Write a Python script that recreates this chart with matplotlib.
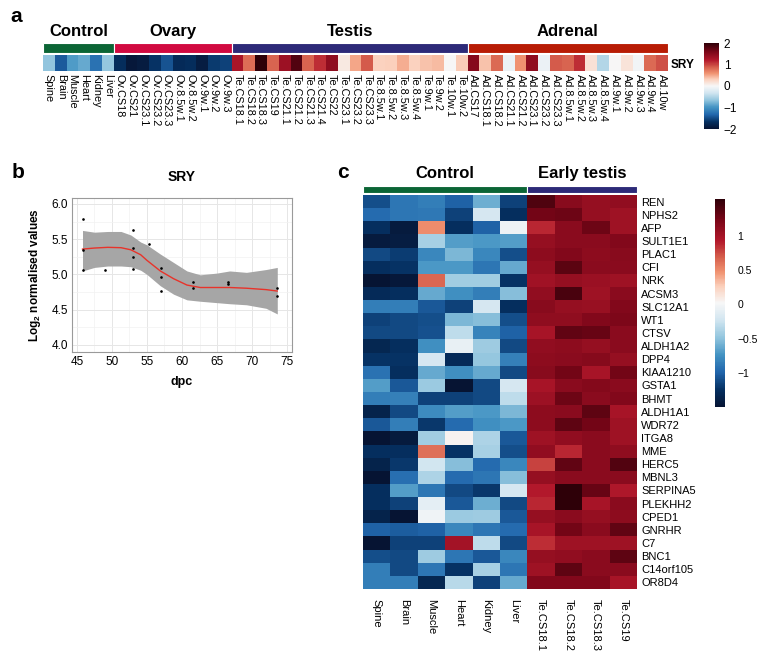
import numpy as np
import matplotlib
matplotlib.use("Agg")
import matplotlib.pyplot as plt
from matplotlib.colors import LinearSegmentedColormap

plt.rcParams['font.family'] = ['Liberation Sans', 'DejaVu Sans']
plt.rcParams['mathtext.fontset'] = 'custom'
plt.rcParams['mathtext.rm'] = 'Liberation Sans'
plt.rcParams['mathtext.bf'] = 'Liberation Sans:bold'

W, H = 765, 661

# ---------------- data: panel a (SRY across samples) ----------------
groups_a = ['Control', 'Ovary', 'Testis', 'Adrenal']
samples_a = [
    'Spine', 'Brain', 'Muscle', 'Heart', 'Kidney', 'Liver',
    'Ov.CS18', 'Ov.CS21', 'Ov.CS23.1', 'Ov.CS23.2', 'Ov.CS23.3', 'Ov.8.5w.1', 'Ov.8.5w.2',
    'Ov.9w.1', 'Ov.9w.2', 'Ov.9w.3',
    'Te.CS18.1', 'Te.CS18.2', 'Te.CS18.3', 'Te.CS19', 'Te.CS21.1', 'Te.CS21.2', 'Te.CS21.3',
    'Te.CS21.4', 'Te.CS22', 'Te.CS23.1', 'Te.CS23.2', 'Te.CS23.3', 'Te.8.5w.1', 'Te.8.5w.2',
    'Te.8.5w.3', 'Te.8.5w.4', 'Te.9w.1', 'Te.9w.2', 'Te.10w.1', 'Te.10w.2',
    'Ad.CS17', 'Ad.CS18.1', 'Ad.CS18.2', 'Ad.CS21.1', 'Ad.CS21.2', 'Ad.CS23.1', 'Ad.CS23.2',
    'Ad.CS23.3', 'Ad.8.5w.1', 'Ad.8.5w.2', 'Ad.8.5w.3', 'Ad.8.5w.4', 'Ad.9w.1', 'Ad.9w.2',
    'Ad.9w.3', 'Ad.9w.4', 'Ad.10w']
group_sizes_a = [6, 10, 20, 17]
sry_a = [
    -0.67, -1.4, -0.95, -0.85, -1.25, -0.65,
    -1.7, -1.95, -1.9, -1.65, -1.45, -1.72, -1.7, -1.88, -1.6, -1.55,
    1.25, 0.8, 2.0, 0.85, 1.35, 1.8, 0.85, 1.1, 1.45, 0.12, 0.5, 0.9,
    0.3, 0.32, 0.48, 0.3, 0.38, 0.42, 0.0, 0.34,
    1.5, 0.38, 0.82, -0.1, 0.6, 1.45, -0.1, 0.9, 0.85, 1.1, 0.18, -0.5,
    0.0, 0.16, -0.05, 0.82, 0.95]

# ---------------- data: panel b (SRY vs dpc) ----------------
dpc_pts = [45.8, 45.8, 45.8, 49, 53, 53, 53, 53, 55.3, 57, 57, 57, 61.5, 61.5, 66.6, 66.6, 73.6, 73.6]
expr_pts = [5.78, 5.35, 5.06, 5.06, 5.63, 5.37, 5.25, 5.08, 5.43, 5.09, 4.97, 4.76,
            4.90, 4.81, 4.89, 4.86, 4.81, 4.70]
dpc_fit = [45.8, 47.5, 49.4, 51.3, 52.7, 54.1, 55.0, 56.9, 58.8, 60.7, 62.6, 65.0, 66.8, 69.2, 72.0, 73.6]
fit_mid = [5.36, 5.375, 5.385, 5.38, 5.35, 5.28, 5.20, 5.05, 4.94, 4.85, 4.815, 4.815, 4.815, 4.805, 4.785, 4.765]
fit_hi = [5.625, 5.60, 5.61, 5.61, 5.56, 5.46, 5.42, 5.29, 5.17, 5.05, 4.995, 5.02, 5.05, 5.03, 5.07, 5.10]
fit_lo = [5.05, 5.10, 5.12, 5.12, 5.11, 5.06, 5.00, 4.84, 4.72, 4.64, 4.62, 4.60, 4.585, 4.57, 4.52, 4.44]

# ---------------- data: panel c (genes x samples) ----------------
genes_c = ['REN', 'NPHS2', 'AFP', 'SULT1E1', 'PLAC1', 'CFI', 'NRK', 'ACSM3', 'SLC12A1', 'WT1',
           'CTSV', 'ALDH1A2', 'DPP4', 'KIAA1210', 'GSTA1', 'BHMT', 'ALDH1A1', 'WDR72', 'ITGA8',
           'MME', 'HERC5', 'MBNL3', 'SERPINA5', 'PLEKHH2', 'CPED1', 'GNRHR', 'C7', 'BNC1',
           'C14orf105', 'OR8D4']
samples_c = ['Spine', 'Brain', 'Muscle', 'Heart', 'Kidney', 'Liver',
             'Te.CS18.1', 'Te.CS18.2', 'Te.CS18.3', 'Te.CS19']
groups_c = ['Control', 'Early testis']
group_sizes_c = [6, 4]
expr_c = [
    [-1.10, -0.90, -0.85, -1.00, -0.60, -1.15, 1.40, 1.15, 1.07, 1.10],
    [-0.95, -0.90, -0.88, -1.15, -0.20, -1.25, 1.25, 1.28, 1.07, 1.03],
    [-1.25, -1.42, 0.50, -1.25, -1.00, -0.05, 0.88, 1.13, 1.28, 1.03],
    [-1.42, -1.40, -0.40, -0.68, -0.70, -0.68, 1.08, 1.13, 1.14, 1.18],
    [-1.12, -1.18, -0.80, -0.55, -0.80, -1.10, 1.12, 1.18, 1.12, 1.15],
    [-1.25, -1.22, -0.70, -0.70, -0.90, -0.62, 1.07, 1.35, 1.13, 1.13],
    [-1.49, -1.45, 0.65, -0.42, -0.42, -1.22, 1.02, 1.08, 1.05, 1.03],
    [-1.28, -1.25, -0.62, -0.75, -0.85, -0.52, 1.10, 1.42, 1.03, 1.14],
    [-0.85, -0.85, -1.05, -1.15, -0.20, -1.25, 1.15, 1.07, 1.06, 1.18],
    [-1.15, -1.12, -1.10, -0.55, -0.52, -1.10, 1.11, 1.11, 1.18, 1.20],
    [-1.12, -1.12, -1.08, -0.30, -0.82, -1.00, 0.98, 1.32, 1.30, 1.14],
    [-1.32, -1.25, -0.75, -0.08, -0.43, -1.12, 1.10, 1.12, 1.07, 1.13],
    [-1.22, -1.22, -0.20, -1.28, -0.47, -0.83, 1.12, 1.13, 1.16, 1.07],
    [-0.92, -1.25, -0.62, -0.75, -0.62, -1.12, 1.15, 1.25, 0.98, 1.25],
    [-0.68, -1.05, -0.45, -1.48, -1.12, -0.20, 0.98, 1.13, 1.17, 1.14],
    [-0.85, -0.83, -1.15, -1.15, -1.12, -0.30, 1.04, 1.28, 1.14, 1.18],
    [-1.35, -1.12, -0.78, -0.68, -0.70, -0.55, 1.12, 1.13, 1.33, 0.98],
    [-1.05, -0.85, -1.20, -0.95, -0.75, -0.70, 1.12, 1.33, 1.25, 1.03],
    [-1.49, -1.42, -0.42, 0.05, -0.38, -1.05, 1.03, 1.10, 1.14, 1.03],
    [-1.25, -1.25, 0.62, -1.22, -0.40, -1.10, 1.10, 0.88, 1.14, 1.11],
    [-1.35, -1.20, -0.22, -0.52, -0.95, -0.80, 0.78, 1.32, 1.14, 1.38],
    [-1.49, -0.93, -0.38, -0.95, -0.90, -0.52, 1.07, 1.13, 1.14, 1.14],
    [-1.25, -0.68, -0.90, -1.12, -1.20, -0.20, 0.92, 1.53, 1.30, 0.95],
    [-1.25, -1.15, -0.10, -1.05, -0.60, -1.12, 0.88, 1.53, 0.98, 1.14],
    [-1.35, -1.49, -0.03, -0.45, -0.44, -1.05, 1.08, 1.14, 1.08, 1.12],
    [-1.00, -1.02, -1.00, -0.80, -0.90, -0.95, 0.98, 1.25, 1.14, 1.32],
    [-1.48, -1.15, -1.15, 1.00, -0.30, -1.12, 0.85, 1.03, 1.03, 1.03],
    [-1.10, -1.12, -0.43, -0.90, -1.05, -0.80, 1.07, 1.10, 1.14, 1.33],
    [-0.85, -1.12, -0.90, -1.22, -0.40, -0.90, 1.03, 1.33, 1.14, 1.14],
    [-0.85, -0.85, -1.32, -0.33, -1.15, -0.62, 1.18, 1.18, 1.18, 0.98],
]

group_colors = {'Control': '#0b6535', 'Ovary': '#d10a40', 'Testis': '#2d2a78',
                'Adrenal': '#b81c05', 'Early testis': '#2d2a78'}

cmap = LinearSegmentedColormap.from_list('rdbu_dark', [
    (0.0, '#061433'), (0.083, '#053061'), (0.167, '#2166ac'), (0.25, '#4393c3'),
    (0.333, '#92c5de'), (0.417, '#d1e5f0'), (0.5, '#f7f7f7'), (0.58, '#fbd0bc'),
    (0.65, '#f09270'), (0.72, '#d6604d'), (0.80, '#b2182b'), (0.90, '#7a0618'),
    (1.0, '#2e0008')])


def rect(x0, y0, x1, y1):
    # pixel box (from top-left) -> figure fraction
    return [x0 / W, 1 - y1 / H, (x1 - x0) / W, (y1 - y0) / H]


def annotation_bar(ax, groups, sizes, title_y):
    starts = np.concatenate([[0], np.cumsum(sizes)[:-1]])
    for g, s, n in zip(groups, starts, sizes):
        ax.bar(s, 1, width=n, align='edge', color=group_colors[g], edgecolor='white', linewidth=0.8)
        ax.text(s + n / 2, title_y, g, ha='center', va='bottom', fontsize=12, fontweight='bold')
    ax.set_xlim(0, sum(sizes))
    ax.set_ylim(0, 1)
    ax.axis('off')


def clean_cbar(cb, fs, pad):
    cb.outline.set_visible(False)
    cb.ax.tick_params(length=0, labelsize=fs, pad=pad)


fig = plt.figure(figsize=(W / 100, H / 100), dpi=100)

# ---------------- panel a ----------------
ax_bar_a = fig.add_axes(rect(43, 43, 668, 53))
annotation_bar(ax_bar_a, groups_a, group_sizes_a, 1.4)

ax_a = fig.add_axes(rect(43, 55, 668, 71))
mesh_a = ax_a.pcolormesh(np.array([sry_a]), cmap=cmap, vmin=-2, vmax=2)
ax_a.set_xlim(0, len(samples_a))
ax_a.set_xticks(np.arange(len(samples_a)) + 0.5)
ax_a.set_xticklabels(samples_a, rotation=-90, fontsize=7.8)
ax_a.set_yticks([0.5])
ax_a.set_yticklabels(['SRY'], fontsize=8.5, fontweight='bold')
ax_a.yaxis.tick_right()
ax_a.tick_params(length=0, pad=2)
for sp in ax_a.spines.values():
    sp.set_visible(False)

cax_a = fig.add_axes(rect(704, 43, 719, 129))
cb_a = fig.colorbar(mesh_a, cax=cax_a, ticks=[-2, -1, 0, 1, 2])
clean_cbar(cb_a, 8.5, 3.5)

fig.text(10 / W, 1 - 17 / H, 'a', fontsize=15, fontweight='bold', va='center')

# ---------------- panel b ----------------
ax_b = fig.add_axes(rect(72, 198, 292, 352))
ax_b.fill_between(dpc_fit, fit_lo, fit_hi, color='#a6a6a6', linewidth=0, zorder=2)
ax_b.plot(dpc_fit, fit_mid, color='#e8332a', linewidth=1.0, zorder=3)
ax_b.scatter(dpc_pts, expr_pts, s=0.8, color='black', zorder=4)
ax_b.set_xlim(44.3, 75.7)
ax_b.set_ylim(3.9, 6.085)
ax_b.set_xticks([45, 50, 55, 60, 65, 70, 75])
ax_b.set_yticks([4.0, 4.5, 5.0, 5.5, 6.0])
ax_b.set_xticks(np.arange(47.5, 75, 5), minor=True)
ax_b.set_yticks([4.25, 4.75, 5.25, 5.75], minor=True)
ax_b.grid(True, which='major', color='#e6e6e6', linewidth=0.7)
ax_b.grid(True, which='minor', color='#f2f2f2', linewidth=0.5)
ax_b.set_axisbelow(True)
ax_b.tick_params(which='both', length=0, labelsize=8.5, pad=3)
for sp in ax_b.spines.values():
    sp.set_color('#9a9a9a')
    sp.set_linewidth(0.8)
ax_b.set_xlabel('dpc', fontsize=9, fontweight='bold', labelpad=6)
ax_b.set_ylabel(r'Log$_\mathbf{2}$ normalised values', fontsize=8.5, fontweight='bold', labelpad=6)
ax_b.set_title('SRY', fontsize=10, fontweight='bold', pad=12)

fig.text(12 / W, 1 - 172 / H, 'b', fontsize=15, fontweight='bold', va='center')

# ---------------- panel c ----------------
ax_bar_c = fig.add_axes(rect(363, 186, 637, 193))
annotation_bar(ax_bar_c, groups_c, group_sizes_c, 1.7)

ax_c = fig.add_axes(rect(363, 195, 637, 589))
mesh_c = ax_c.pcolormesh(np.array(expr_c), cmap=cmap, vmin=-1.49, vmax=1.53)
ax_c.set_xlim(0, len(samples_c))
ax_c.set_ylim(len(genes_c), 0)
ax_c.set_xticks(np.arange(len(samples_c)) + 0.5)
ax_c.set_xticklabels(samples_c, rotation=-90, fontsize=8)
ax_c.set_yticks(np.arange(len(genes_c)) + 0.5)
ax_c.set_yticklabels(genes_c, fontsize=8)
ax_c.yaxis.tick_right()
ax_c.tick_params(length=0, pad=3)
ax_c.tick_params(axis='x', pad=7)
for sp in ax_c.spines.values():
    sp.set_visible(False)

cax_c = fig.add_axes(rect(715, 199, 725, 407))
cb_c = fig.colorbar(mesh_c, cax=cax_c, ticks=[-1, -0.5, 0, 0.5, 1])
cb_c.ax.set_yticklabels(['\u22121', '\u22120.5', '0', '0.5', '1'])
clean_cbar(cb_c, 7.5, 9)

fig.text(337 / W, 1 - 172 / H, 'c', fontsize=15, fontweight='bold', va='center')

fig.savefig('out.png', dpi=100)
